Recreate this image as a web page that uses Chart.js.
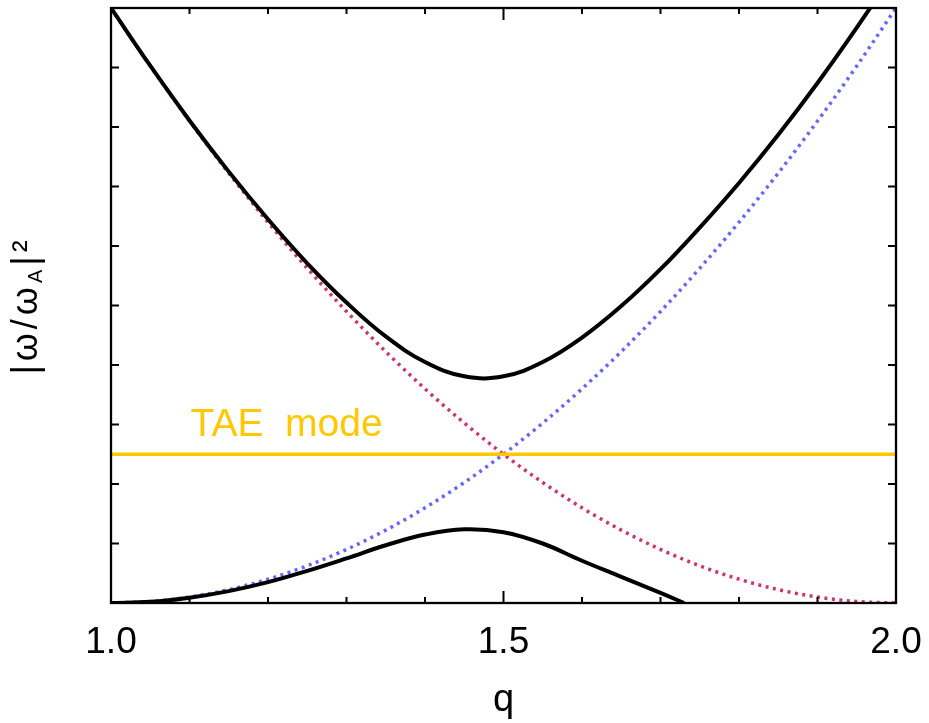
<!DOCTYPE html>
<html>
<head>
<meta charset="utf-8">
<script src="https://cdn.jsdelivr.net/npm/chart.js@4/dist/chart.umd.min.js"></script>
<style>
html,body{margin:0;padding:0;background:#fff;}
#wrap{width:929px;height:723px;position:relative;}
</style>
</head>
<body>
<div id="wrap"><canvas id="c" width="929" height="723"></canvas></div>
<script>
// q positions of the read-off samples
const qValues = [1.00,1.05,1.10,1.15,1.20,1.25,1.30,1.35,1.40,1.45,1.50,1.55,1.60,1.65,1.70,1.75,1.80,1.85,1.90,1.95,2.00];
// dotted (uncoupled) branches
const redBranch  = [1.000,0.9025,0.810,0.7225,0.640,0.5625,0.490,0.4225,0.360,0.3025,0.250,0.2025,0.160,0.1225,0.090,0.0625,0.040,0.0225,0.010,0.0025,0.000];
const blueBranch = [0.000,0.0025,0.010,0.0225,0.040,0.0625,0.090,0.1225,0.160,0.2025,0.250,0.3025,0.360,0.4225,0.490,0.5625,0.640,0.7225,0.810,0.9025,1.000];
// coupled branches (black)
const upperBranch = [1.000,0.903,0.811,0.725,0.645,0.571,0.505,0.448,0.405,0.381,0.381,0.405,0.446,0.499,0.561,0.631,0.706,0.787,0.874,0.967,1.065];
const lowerQ      = [1.00,1.05,1.10,1.15,1.20,1.25,1.30,1.35,1.40,1.45,1.50,1.55,1.60,1.65,1.70,1.73];
const lowerBranch = [0.000,0.002,0.009,0.020,0.035,0.054,0.075,0.097,0.115,0.124,0.119,0.100,0.071,0.044,0.017,0.000];
// TAE frequency level
const taeQ = [1.0, 2.0];
const taeLevel = [0.25, 0.25];
const taeLabel = "TAE  mode";
// axis
const xTickLabels = ["1.0","1.5","2.0"];
const xTitle = "q";
const yTickStep = 0.1;

const pts = (xs, ys) => xs.map((x,i)=>({x:x, y:ys[i]}));
const FONT = "'Liberation Sans', 'DejaVu Sans', sans-serif";

const framePlugin = {
  id: 'frame',
  afterDatasetsDraw(chart){
    const ctx = chart.ctx, a = chart.chartArea;
    const xs = chart.scales.x, ys = chart.scales.y;
    ctx.save();
    ctx.strokeStyle = '#000';
    ctx.lineWidth = 2.3;
    ctx.strokeRect(a.left, a.top, a.right - a.left, a.bottom - a.top);
    ctx.lineWidth = 2;
    // x ticks (inward, bottom and top)
    for (let i = 1; i < 10; i++) {
      const v = 1 + i/10;
      const px = xs.getPixelForValue(v);
      const len = (i === 5) ? 12 : 6;
      ctx.beginPath();
      ctx.moveTo(px, a.bottom); ctx.lineTo(px, a.bottom - len);
      ctx.moveTo(px, a.top); ctx.lineTo(px, a.top + len);
      ctx.stroke();
    }
    // y ticks (inward, left and right)
    for (let i = 1; i < 10; i++) {
      const py = ys.getPixelForValue(i*yTickStep);
      ctx.beginPath();
      ctx.moveTo(a.left, py); ctx.lineTo(a.left + 8, py);
      ctx.moveTo(a.right, py); ctx.lineTo(a.right - 8, py);
      ctx.stroke();
    }
    // TAE label
    ctx.fillStyle = '#FFC800';
    ctx.font = '39px ' + FONT;
    ctx.textBaseline = 'alphabetic';
    ctx.textAlign = 'left';
    ctx.fillText(taeLabel, xs.getPixelForValue(1.1) + 1, ys.getPixelForValue(0.25) - 18);
    // y title with subscript
    ctx.fillStyle = '#000';
    ctx.translate(37, (a.top + a.bottom)/2);
    ctx.rotate(-Math.PI/2);
    try { ctx.letterSpacing = '4px'; } catch(e) {}
    const big = '36px ' + FONT, small = '20px ' + FONT;
    const parts = [['|ω/ω', big, 0], ['A', small, 5], ['|²', big, 0]];
    let total = 0;
    parts.forEach(p => { ctx.font = p[1]; total += ctx.measureText(p[0]).width; });
    let x = -total/2;
    parts.forEach(p => { ctx.font = p[1]; ctx.fillText(p[0], x, p[2]); x += ctx.measureText(p[0]).width; });
    ctx.restore();
  }
};

new Chart(document.getElementById('c'), {
  type: 'line',
  data: {
    datasets: [
      { data: pts(qValues, upperBranch), borderColor: '#000', borderWidth: 4, pointRadius: 0, tension: 0.4, order: 1 },
      { data: pts(lowerQ, lowerBranch), borderColor: '#000', borderWidth: 4, pointRadius: 0, tension: 0.4, order: 2 },
      { data: pts(taeQ, taeLevel), borderColor: '#FFC800', borderWidth: 3.5, pointRadius: 0, order: 3 },
      { data: pts(qValues, redBranch), borderColor: '#D0356A', borderWidth: 3.5, borderDash: [3,4.5], pointRadius: 0, cubicInterpolationMode: 'monotone', order: 4 },
      { data: pts(qValues, blueBranch), borderColor: '#6666FF', borderWidth: 3.5, borderDash: [3,4.5], pointRadius: 0, cubicInterpolationMode: 'monotone', order: 5 }
    ]
  },
  options: {
    responsive: false,
    animation: false,
    devicePixelRatio: 1,
    layout: { padding: { top: 8, right: 33, left: 0, bottom: 0 } },
    plugins: { legend: { display: false }, tooltip: { enabled: false } },
    scales: {
      x: {
        type: 'linear', min: 1.0, max: 2.0,
        grid: { display: false, drawTicks: false },
        border: { display: false },
        ticks: {
          stepSize: 0.5, padding: 18, color: '#000',
          font: { size: 37, family: FONT },
          maxRotation: 0, autoSkip: false,
          callback: (v) => { const s = Number(v).toFixed(1); return xTickLabels.includes(s) ? s : ''; }
        },
        title: { display: true, text: xTitle, color: '#000', font: { size: 38, family: FONT }, padding: { top: 0, bottom: 0 } },
        afterFit: (s) => { s.height = 120; s.paddingLeft = 0; s.paddingRight = 0; }
      },
      y: {
        type: 'linear', min: 0, max: 1,
        grid: { display: false, drawTicks: false },
        border: { display: false },
        ticks: { display: false },
        afterFit: (s) => { s.width = 111; }
      }
    }
  },
  plugins: [framePlugin]
});
</script>
</body>
</html>
